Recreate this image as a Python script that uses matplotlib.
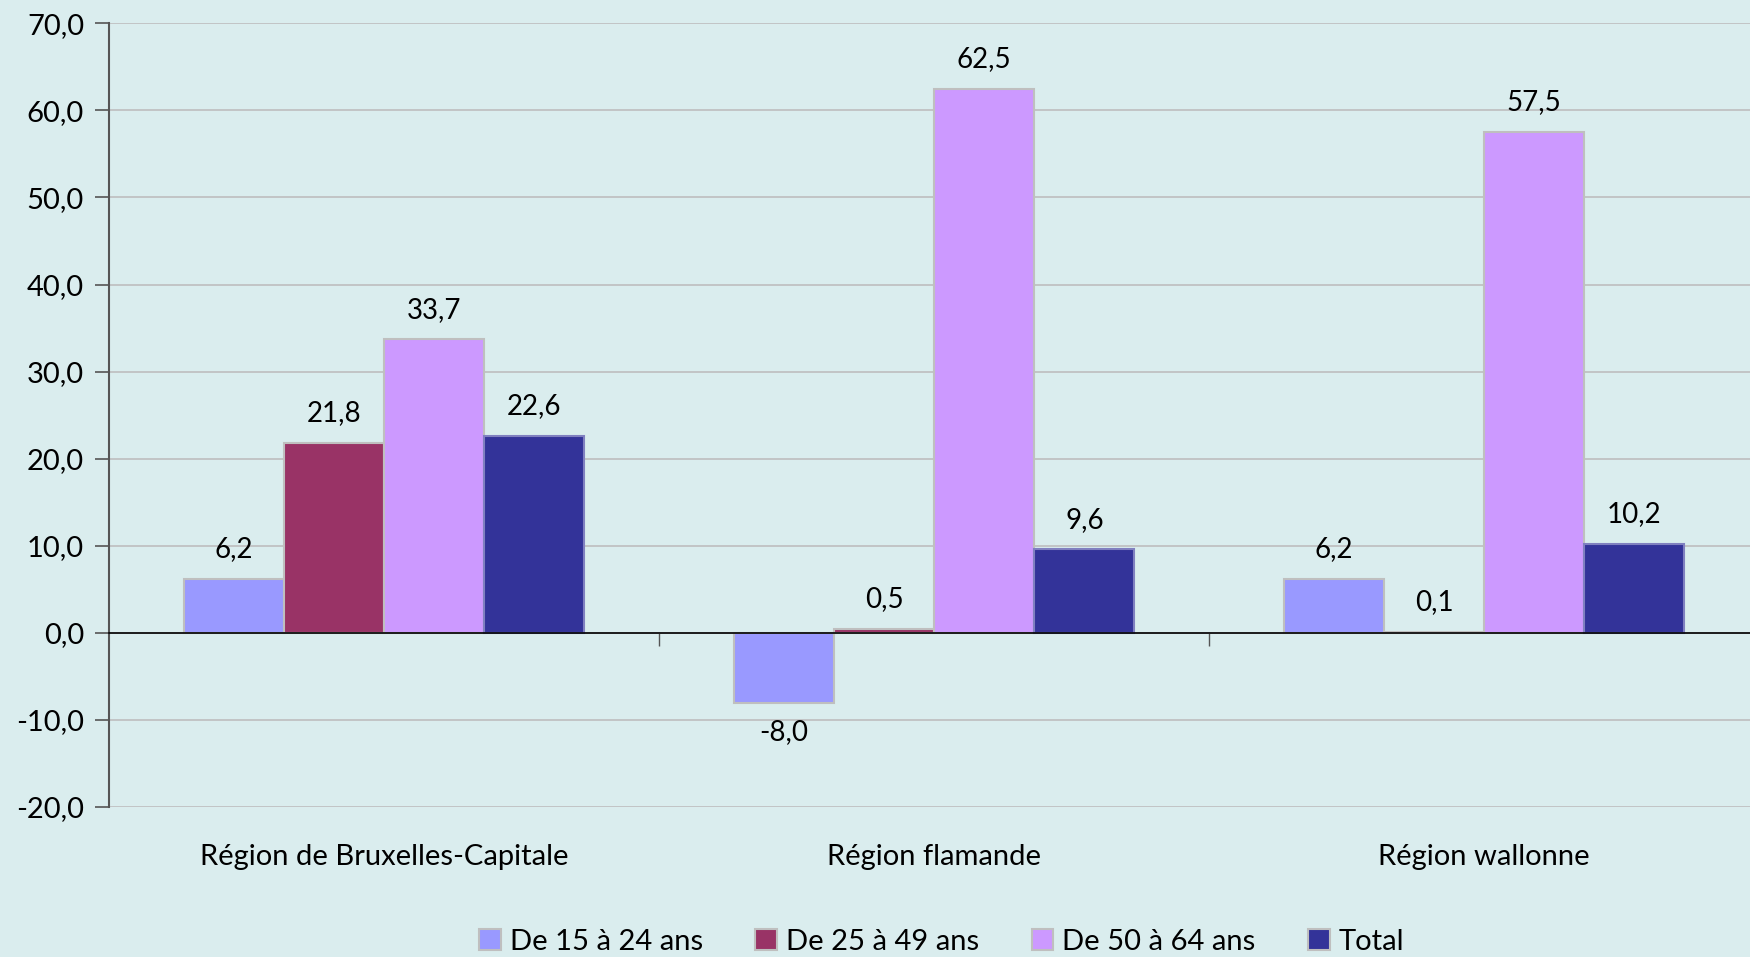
import matplotlib.pyplot as plt
import numpy as np

plt.rcParams['font.family'] = ['Lato', 'DejaVu Sans']

regions = ['Région de Bruxelles-Capitale', 'Région flamande', 'Région wallonne']
series = ['De 15 à 24 ans', 'De 25 à 49 ans', 'De 50 à 64 ans', 'Total']
values = [
    [6.2, -8.0, 6.2],
    [21.8, 0.5, 0.1],
    [33.7, 62.5, 57.5],
    [22.6, 9.6, 10.2],
]
colors = ['#9999FF', '#993366', '#CC99FF', '#333399']
edges = ['#BFBFBF', '#BFBFBF', '#BFBFBF', '#8080C0']
yticks = np.arange(-20, 71, 10)

bg = '#DAEDEE'
fig = plt.figure(figsize=(17.5, 9.57), dpi=100, facecolor=bg)
# plot area runs a little past the right edge of the picture
ax = fig.add_axes([0.0623, 0.1567, 0.943, 0.819], facecolor=bg)

x = np.arange(len(regions))
w = 0.182
for i, (name, vals) in enumerate(zip(series, values)):
    pos = x + (i - 1.5) * w
    ax.bar(pos, vals, w, color=colors[i], edgecolor=edges[i], linewidth=1.5,
           label=name, zorder=3)
    for px, v in zip(pos, vals):
        off = 12 if v >= 0 else -12
        ax.annotate(f'{v:.1f}'.replace('.', ','), (px, v), xytext=(0, off),
                    textcoords='offset points', ha='center',
                    va='bottom' if v >= 0 else 'top', fontsize=20, zorder=4)

ax.set_ylim(-20, 70)
ax.set_xlim(-0.5, 2.5)
ax.set_yticks(yticks)
ax.set_yticklabels([f'{t:.1f}'.replace('.', ',') for t in yticks], fontsize=21)
ax.yaxis.grid(True, color='#BEBEBE', linewidth=1.2, zorder=0)
ax.tick_params(axis='y', direction='out', length=10, width=1.2, color='#555555', pad=8)

for s in ['top', 'right']:
    ax.spines[s].set_visible(False)
ax.spines['left'].set_color('#555555')
ax.spines['left'].set_linewidth(1.5)
ax.spines['bottom'].set_position(('data', 0))
ax.spines['bottom'].set_color('black')
ax.spines['bottom'].set_linewidth(1.2)
ax.spines['bottom'].set_zorder(5)
ax.set_xticks([0.5, 1.5])
ax.set_xticklabels([])
ax.tick_params(axis='x', direction='out', length=9, width=1.0, color='#555555')

for xi, r in zip(x, regions):
    ax.text(xi, -0.064, r, transform=ax.get_xaxis_transform(), ha='center',
            va='center', fontsize=21)

leg = fig.legend(loc='center', bbox_to_anchor=(0.538, 0.016), ncol=4, frameon=False,
                 fontsize=21, handlelength=0.75, handleheight=0.75,
                 handletextpad=0.3, columnspacing=1.8)
for h in leg.legend_handles:
    h.set_edgecolor('#BFBFBF')
    h.set_linewidth(1.5)

fig.savefig('out.png', dpi=100, facecolor=bg)
